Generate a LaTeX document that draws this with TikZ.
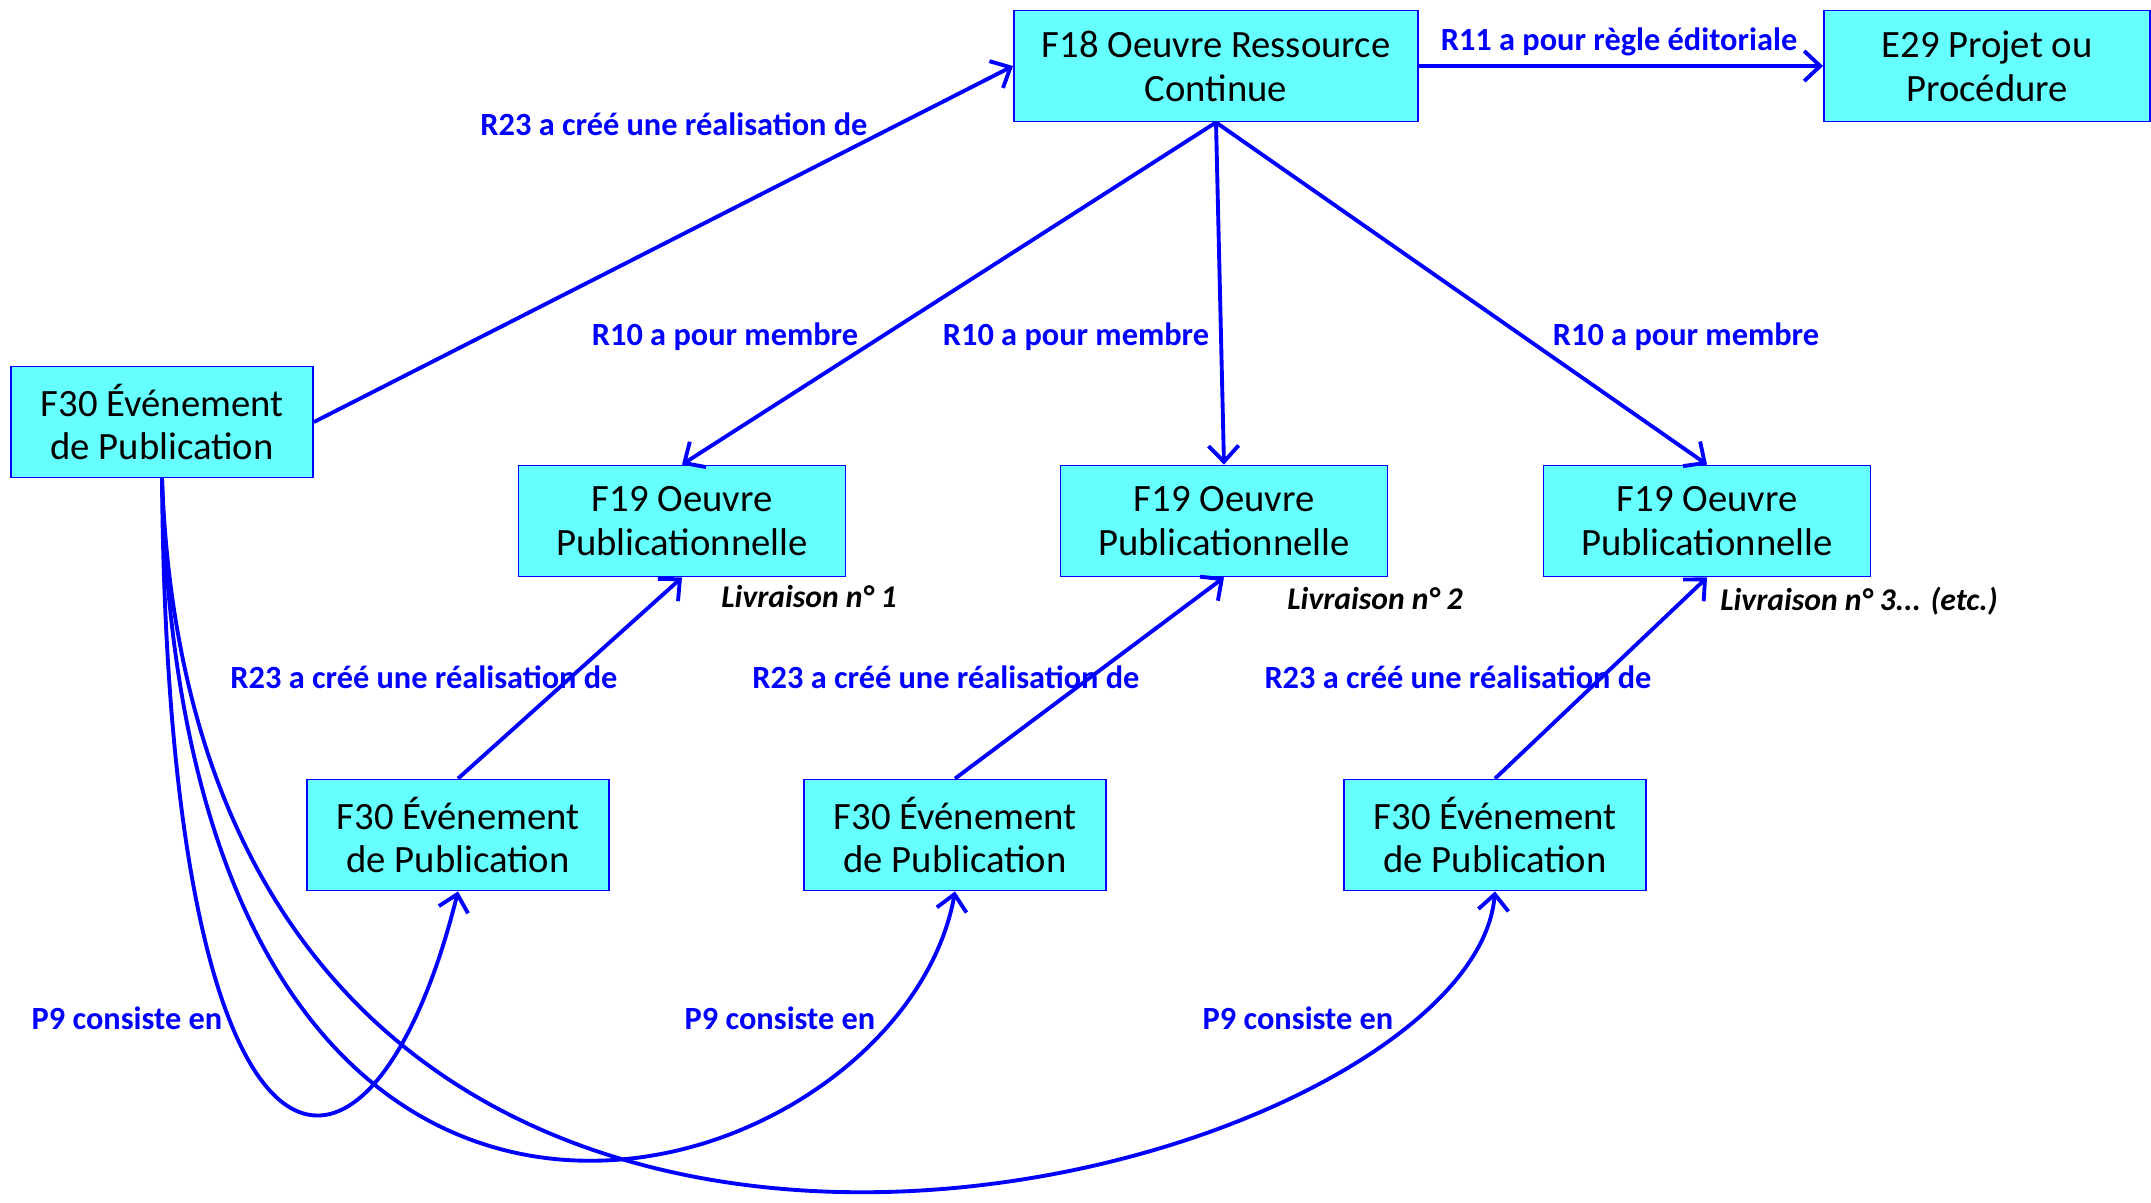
\documentclass[tikz,border=0pt]{standalone}
\usepackage{fontspec}
\setmainfont{Carlito}
\usepackage{tikz}
\usetikzlibrary{arrows.meta}
\definecolor{boxcyan}{RGB}{102,255,255}
\definecolor{linkblue}{RGB}{0,0,255}

\begin{document}
\begin{tikzpicture}[x=0.01cm,y=-0.01cm]
  \tikzset{myedge/.style={-{Straight Barb[length=1.6mm,width=3mm]}, draw=linkblue, line width=1.1pt}};
  \tikzset{mybox/.style={rectangle, draw=linkblue, line width=0.5pt, fill=boxcyan, align=center, minimum height=1.11cm, inner sep=2pt, font=\fontsize{11}{12.5}\selectfont}};
  \tikzset{mylabel/.style={text=linkblue, inner sep=0pt, font=\fontsize{9.2}{11}\selectfont\bfseries}};
  \tikzset{mynote/.style={inner sep=0pt, font=\fontsize{9}{11}\selectfont\bfseries\itshape}};
  \useasboundingbox (0,0) rectangle (2151,1203);

  \node[mybox, minimum width=4.04cm] (f18) at (1216,66) {F18 Oeuvre Ressource\\Continue};
  \node[mybox, minimum width=3.26cm] (e29) at (1987,66) {E29 Projet ou\\Procédure};
  \node[mybox, minimum width=3.02cm] (f30) at (162,422) {F30 Événement\\de Publication};

  \node[mybox, minimum width=3.27cm] (f19a) at (682,521) {F19 Oeuvre\\Publicationnelle};
  \node[mybox, minimum width=3.27cm] (f19b) at (1224,521) {F19 Oeuvre\\Publicationnelle};
  \node[mybox, minimum width=3.27cm] (f19c) at (1707,521) {F19 Oeuvre\\Publicationnelle};

  \node[mybox, minimum width=3.02cm] (f30a) at (458,835) {F30 Événement\\de Publication};
  \node[mybox, minimum width=3.02cm] (f30b) at (955,835) {F30 Événement\\de Publication};
  \node[mybox, minimum width=3.02cm] (f30c) at (1495,835) {F30 Événement\\de Publication};

  \draw [myedge] (f30.east) -- (f18.west);
  \draw [myedge] (f18.east) -- (e29.west);
  \draw [myedge] (f18.south) -- (f19a.north);
  \draw [myedge] (f18.south) -- (f19b.north);
  \draw [myedge] (f18.south) -- (f19c.north);
  \draw [myedge] (f30a.north) -- (f19a.south);
  \draw [myedge] (f30b.north) -- (f19b.south);
  \draw [myedge] (f30c.north) -- (f19c.south);

  % P9 loops
  \draw [myedge] (f30.south) .. controls (168,1238) and (372,1238) .. (f30a.south);
  \draw [myedge] (f30.south) .. controls (185,1430) and (900,1200) .. (f30b.south);
  \draw [myedge] (f30.south) .. controls (200,1530) and (1470,1190) .. (f30c.south);

  \node[mylabel] (r23top) at (674,124) {R23 a créé une réalisation de};
  \node[mylabel] (r11) at (1619,42) {R11 a pour règle éditoriale};
  \node[mylabel] (r10a) at (725,337) {R10 a pour membre};
  \node[mylabel] (r10b) at (1076,337) {R10 a pour membre};
  \node[mylabel] (r10c) at (1686,337) {R10 a pour membre};
  \node[mylabel] (r23a) at (424,677) {R23 a créé une réalisation de};
  \node[mylabel] (r23b) at (946,677) {R23 a créé une réalisation de};
  \node[mylabel] (r23c) at (1458,677) {R23 a créé une réalisation de};
  \node[mylabel] (p9a) at (127,1018) {P9 consiste en};
  \node[mylabel] (p9b) at (780,1018) {P9 consiste en};
  \node[mylabel] (p9c) at (1298,1018) {P9 consiste en};

  \node[mynote] (liv1) at (809,597) {Livraison n° 1};
  \node[mynote] (liv2) at (1375,599) {Livraison n° 2};
  \node[mynote] (liv3) at (1859,601) {Livraison n° 3... (etc.)};
\end{tikzpicture}
\end{document}
